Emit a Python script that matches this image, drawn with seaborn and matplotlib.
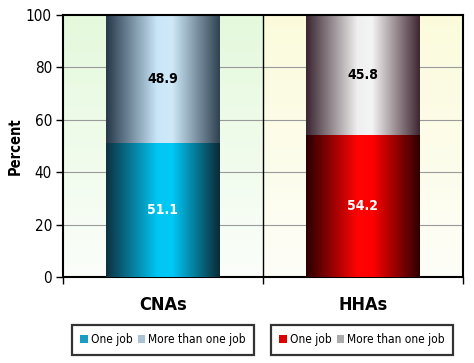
import numpy as np
import pandas as pd
import seaborn as sns
import matplotlib.pyplot as plt
from matplotlib.colors import LinearSegmentedColormap
from matplotlib.patches import Patch

# data
groups = ["CNAs", "HHAs"]
one_job = [51.1, 54.2]
more_than_one = [48.9, 45.8]
y_ticks = [0, 20, 40, 60, 80, 100]

# left-edge / centre / right-edge colours for the cylinder-like gradients
one_grad = [["#0d3140", "#00c6f2", "#00c9f7", "#0c2a36"],
            ["#2a0000", "#ff0303", "#ff0000", "#2e0000"]]
more_grad = [["#26384a", "#c9e6f8", "#cfe9f9", "#2f4252"],
             ["#3a2530", "#efefef", "#f4f4f4", "#3e2630"]]
panel_bg = [["#e4f9dc", "#fbfefa"], ["#fbfbdc", "#fefef8"]]
legend_one = ["#1a9cc4", "#dd0000"]
legend_more = ["#aac2d4", "#ababab"]

sns.set_style("white")
plt.rcParams["font.family"] = ["DejaVu Sans"]
plt.rcParams["font.stretch"] = "condensed"
plt.rcParams["text.color"] = "black"
plt.rcParams["axes.labelcolor"] = "black"
plt.rcParams["xtick.color"] = "black"
plt.rcParams["ytick.color"] = "black"

df = pd.DataFrame({"group": groups, "one": one_job,
                   "total": np.add(one_job, more_than_one)})

fig = plt.figure(figsize=(4.74, 3.63), dpi=100)
ax = fig.add_axes([63 / 474, 86 / 363, 400 / 474, 262 / 363])

# panel backgrounds
for i, (c_top, c_bot) in enumerate(panel_bg):
    cm = LinearSegmentedColormap.from_list("bg%d" % i, [c_top, c_bot])
    grad = np.linspace(0, 1, 100).reshape(-1, 1)
    ax.imshow(grad, cmap=cm, aspect="auto", extent=(i - 0.5, i + 0.5, 0, 100),
              origin="upper", zorder=0)

for y in y_ticks[1:-1]:
    ax.axhline(y, color="#9a9a9a", lw=0.8, zorder=1)
ax.axvline(0.5, color="black", lw=1.0, zorder=1)

sns.barplot(data=df, x="group", y="total", color="grey", width=0.57,
            ax=ax, zorder=2)
sns.barplot(data=df, x="group", y="one", color="grey", width=0.57,
            ax=ax, zorder=3)

bars = ax.patches
grad_x = np.linspace(0, 1, 256).reshape(1, -1)
for k, bar in enumerate(bars):
    i = k % 2
    cols = more_grad[i] if k < 2 else one_grad[i]
    cm = LinearSegmentedColormap.from_list("b%d" % k, list(zip([0, 0.45, 0.58, 1], cols)))
    bar.set_facecolor("none")
    bar.set_edgecolor("none")
    x0, y0 = bar.get_x(), bar.get_y()
    im = ax.imshow(grad_x, cmap=cm, aspect="auto",
                   extent=(x0, x0 + bar.get_width(), y0, y0 + bar.get_height()),
                   zorder=bar.get_zorder())
    im.set_clip_path(bar)

ax.set_xlim(-0.5, 1.5)
ax.set_ylim(0, 100)

# value labels
for i in range(2):
    ax.text(i, one_job[i] / 2, f"{one_job[i]:.1f}", ha="center", va="center",
            color="white", fontsize=10, fontweight="bold", zorder=5)
    ax.text(i, one_job[i] + more_than_one[i] / 2, f"{more_than_one[i]:.1f}",
            ha="center", va="center", color="black", fontsize=10,
            fontweight="bold", zorder=5)

ax.set_yticks(y_ticks)
ax.set_yticklabels([str(t) for t in y_ticks], fontsize=11)
ax.set_xticks([-0.5, 0.5, 1.5])
ax.set_xticklabels([])
ax.tick_params(axis="both", direction="out", length=5, width=1, color="black",
               left=True, bottom=True, pad=3)
for i, g in enumerate(groups):
    ax.text(i, -10.5, g, ha="center", va="center", fontsize=13, fontweight="bold",
            transform=ax.transData)
ax.set_xlabel("")
ax.set_ylabel("Percent", fontsize=10.5, fontweight="bold")
ax.yaxis.set_label_coords(-0.1, 0.5)
for s in ax.spines.values():
    s.set_visible(True)
    s.set_color("black")
    s.set_linewidth(1.5)

# legends, one box per group
for i in range(2):
    handles = [Patch(facecolor=legend_one[i], edgecolor="none", label="One job"),
               Patch(facecolor=legend_more[i], edgecolor="none",
                     label="More than one job")]
    cx = 163 / 474 if i == 0 else 362 / 474
    leg = fig.legend(handles=handles, loc="center", bbox_to_anchor=(cx, 1 - 340 / 363),
                     ncol=2, fontsize=8.6, frameon=True, fancybox=False,
                     handlelength=0.6, handleheight=0.6, handletextpad=0.25,
                     columnspacing=0.45, borderpad=0.7, borderaxespad=0)
    leg.get_frame().set_edgecolor("black")
    leg.get_frame().set_linewidth(1.6)

fig.savefig("out.png", dpi=100)
